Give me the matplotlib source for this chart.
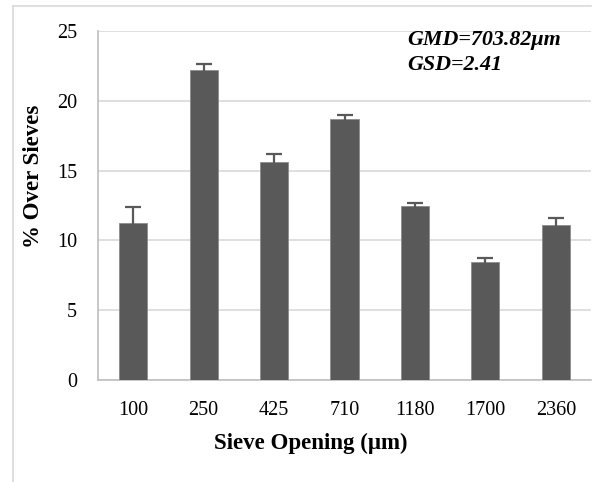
import matplotlib
matplotlib.use("Agg")
import matplotlib.pyplot as plt
from matplotlib.lines import Line2D

categories = ["100", "250", "425", "710", "1180", "1700", "2360"]
values = [11.27, 22.2, 15.6, 18.7, 12.5, 8.45, 11.1]
errors = [1.1, 0.45, 0.6, 0.25, 0.2, 0.3, 0.5]
y_ticks = [0, 5, 10, 15, 20, 25]

plt.rcParams['font.family'] = ['Liberation Serif', 'DejaVu Serif']

fig = plt.figure(figsize=(5.96, 4.82), dpi=100)
ax = fig.add_axes([98/596, (482-380)/482, (591-98)/596, (380-31)/482])

x = list(range(len(categories)))
ax.bar(x, values, width=0.4, color='#595959', edgecolor='#8c8c8c', linewidth=0.6, zorder=3)
ax.errorbar(x, values, yerr=errors, fmt='none', ecolor='#595959', elinewidth=1.6,
            capsize=5.5, capthick=1.6, zorder=4)

ax.set_xlim(-0.5, len(categories) - 0.5)
ax.set_ylim(0, 25)
ax.set_yticks(y_ticks)
ax.set_xticks(x)
ax.set_xticklabels(categories)
ax.yaxis.grid(True, color='#d9d9d9', linewidth=1.2, zorder=0)
ax.set_axisbelow(True)
for s in ['top', 'right']:
    ax.spines[s].set_visible(False)
for s in ['left', 'bottom']:
    ax.spines[s].set_color('#bfbfbf')
    ax.spines[s].set_linewidth(1.2)
ax.tick_params(axis='both', length=0, labelsize=14.5, colors='#000000')
ax.tick_params(axis='y', pad=15)
ax.tick_params(axis='x', pad=15)

ax.set_ylabel('% Over Sieves', fontsize=16.5, fontweight='bold', va='center', ha='center')
ax.yaxis.set_label_coords((33-98)/493, (380-176)/349)
ax.set_xlabel('Sieve Opening (μm)', fontsize=16.5, fontweight='bold', va='center', ha='center')
ax.xaxis.set_label_coords((310.5-98)/493, (380-443)/349)

fig.text(407/596, 1 - 39.5/482, 'GMD=703.82μm', fontsize=15.8, fontweight='bold',
         fontstyle='italic', va='center', ha='left')
fig.text(407/596, 1 - 65/482, 'GSD=2.41', fontsize=15.8, fontweight='bold',
         fontstyle='italic', va='center', ha='left')

# outer chart border (left and top visible)
fig.add_artist(Line2D([13/596, 13/596], [0, 1 - 6/482], transform=fig.transFigure,
                      color='#d9d9d9', linewidth=1.2))
fig.add_artist(Line2D([13/596, 591/596], [1 - 6/482, 1 - 6/482], transform=fig.transFigure,
                      color='#d9d9d9', linewidth=1.2))

fig.savefig('out.png', dpi=100, facecolor='white')
